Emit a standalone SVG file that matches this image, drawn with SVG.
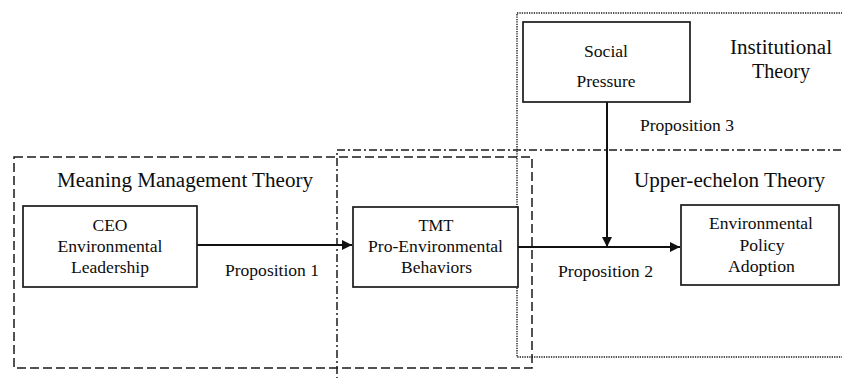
<svg xmlns="http://www.w3.org/2000/svg" width="842" height="378" viewBox="0 0 842 378">
<defs>
<style>
.frame{fill:none;stroke:#1a1a1a;stroke-width:1.5}
.dash{stroke-dasharray:9 4}
.dashdot{stroke-dasharray:8 3 2 3}
.dot{stroke-width:1.4;stroke-dasharray:1.3 1.1}
.box{fill:#fff;stroke:#1a1a1a;stroke-width:1.7}
.t{font-family:"Liberation Serif","Times New Roman",serif;fill:#0d0d0d;text-anchor:middle}
.n{font-size:17.5px}
.h{font-size:20.5px}
.c{fill:none;stroke:#111;stroke-width:2}
</style>
<marker id="ah" markerWidth="10" markerHeight="10" refX="10" refY="5" orient="auto" markerUnits="userSpaceOnUse">
<path d="M0,0 L10,5 L0,10 Z" fill="#111"/>
</marker>
</defs>
<rect width="842" height="378" fill="#fff"/>
<g id="frames">
<rect class="frame dot" x="517" y="13" width="340" height="344"/>
<rect class="frame dashdot" x="337" y="150" width="520" height="240"/>
<rect class="frame dash" x="14" y="157" width="518" height="211"/>
</g>
<g id="titles">
<text class="t h" x="185" y="187" textLength="256" lengthAdjust="spacingAndGlyphs">Meaning Management Theory</text>
<text class="t h" x="729.5" y="187" textLength="191" lengthAdjust="spacingAndGlyphs">Upper-echelon Theory</text>
<text class="t h" x="781" y="54" textLength="102" lengthAdjust="spacingAndGlyphs">Institutional</text>
<text class="t h" x="781" y="78" textLength="58" lengthAdjust="spacingAndGlyphs">Theory</text>
</g>
<g id="connectors">
<line class="c" x1="197" y1="245" x2="352" y2="245" marker-end="url(#ah)"/>
<line class="c" x1="518" y1="247" x2="680" y2="247" marker-end="url(#ah)"/>
<line class="c" x1="607" y1="102" x2="607" y2="247" marker-end="url(#ah)"/>
<text class="t n" x="272" y="276" textLength="94" lengthAdjust="spacingAndGlyphs">Proposition 1</text>
<text class="t n" x="605.5" y="277" textLength="95" lengthAdjust="spacingAndGlyphs">Proposition 2</text>
<text class="t n" x="687" y="131" textLength="94" lengthAdjust="spacingAndGlyphs">Proposition 3</text>
</g>
<g id="ceo">
<rect class="box" x="23" y="206" width="174" height="81"/>
<text class="t n" x="110" y="231" textLength="35" lengthAdjust="spacingAndGlyphs">CEO</text>
<text class="t n" x="110" y="252" textLength="105" lengthAdjust="spacingAndGlyphs">Environmental</text>
<text class="t n" x="110" y="273" textLength="78" lengthAdjust="spacingAndGlyphs">Leadership</text>
</g>
<g id="tmt">
<rect class="box" x="353" y="207" width="165" height="80"/>
<text class="t n" x="436" y="231" textLength="35" lengthAdjust="spacingAndGlyphs">TMT</text>
<text class="t n" x="435.5" y="252" textLength="135" lengthAdjust="spacingAndGlyphs">Pro-Environmental</text>
<text class="t n" x="436.5" y="273" textLength="71" lengthAdjust="spacingAndGlyphs">Behaviors</text>
</g>
<g id="social">
<rect class="box" x="523" y="22" width="167" height="80"/>
<text class="t n" x="606" y="57" textLength="44" lengthAdjust="spacingAndGlyphs">Social</text>
<text class="t n" x="606" y="87" textLength="59" lengthAdjust="spacingAndGlyphs">Pressure</text>
</g>
<g id="policy">
<rect class="box" x="681" y="205" width="158" height="80"/>
<text class="t n" x="761" y="229" textLength="104" lengthAdjust="spacingAndGlyphs">Environmental</text>
<text class="t n" x="762" y="251" textLength="45" lengthAdjust="spacingAndGlyphs">Policy</text>
<text class="t n" x="761.5" y="272" textLength="67" lengthAdjust="spacingAndGlyphs">Adoption</text>
</g>
</svg>
